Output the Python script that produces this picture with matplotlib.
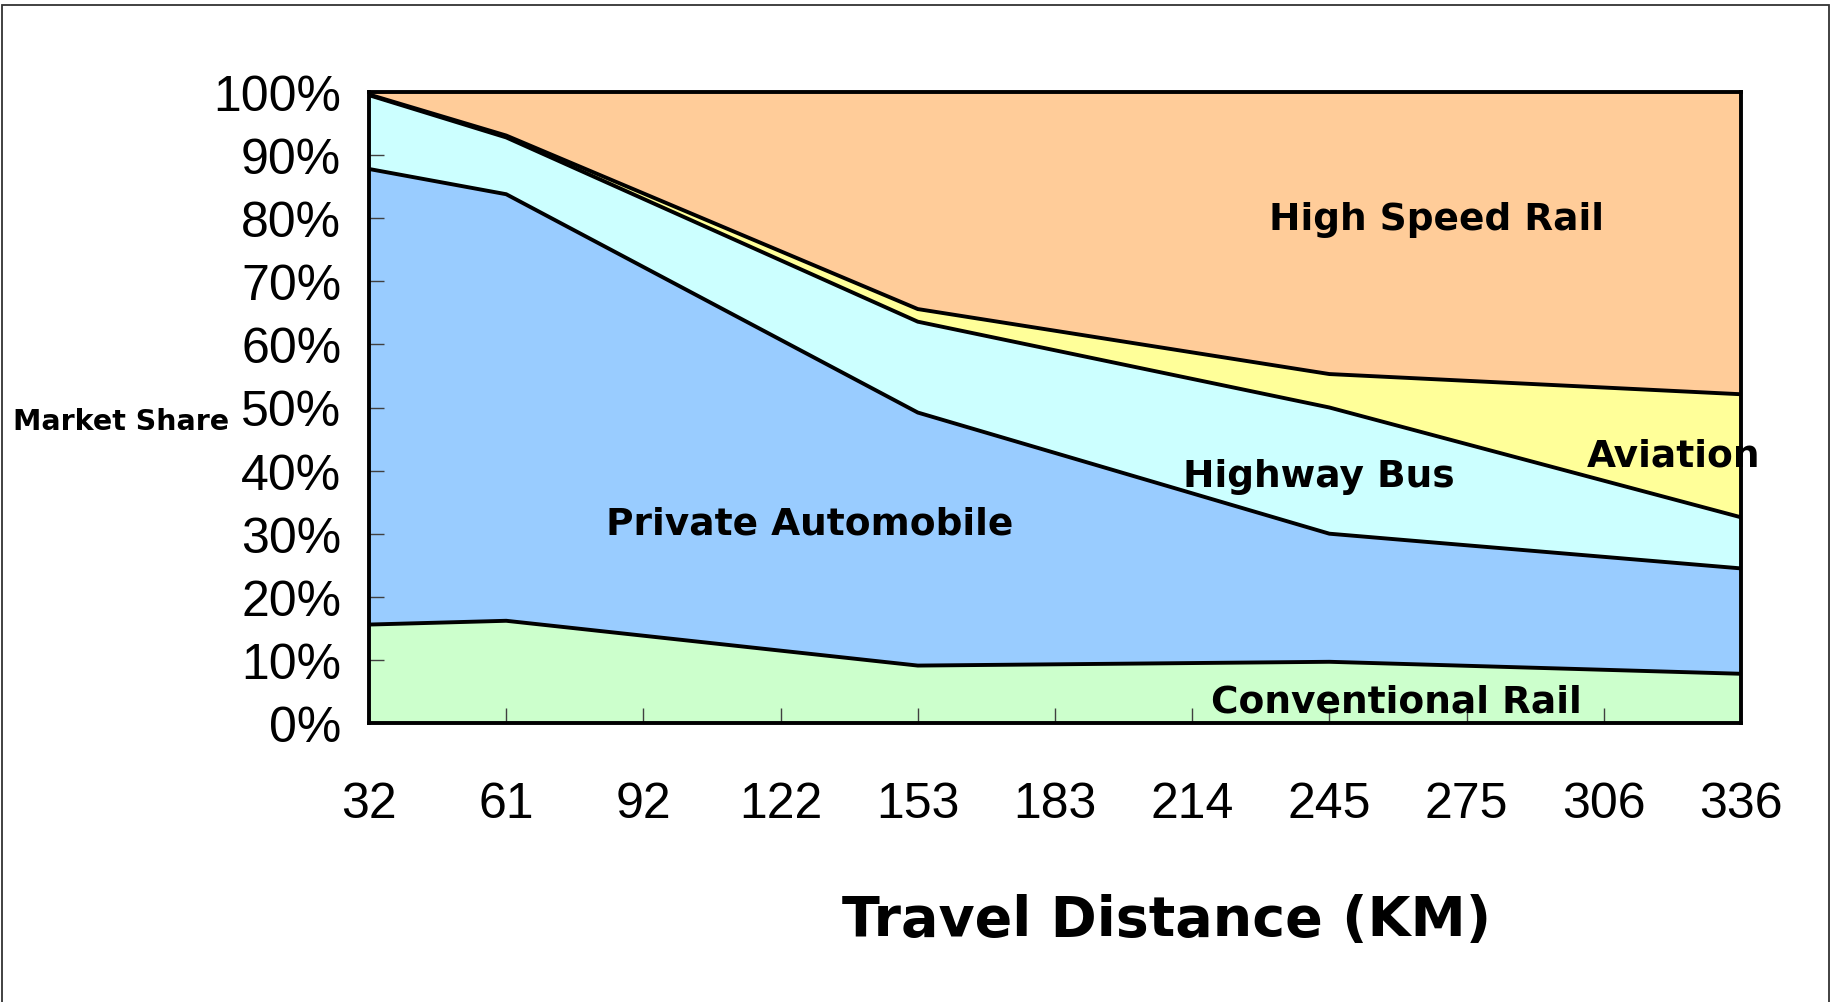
import matplotlib
matplotlib.use("Agg")
import matplotlib.pyplot as plt
from matplotlib.patches import Rectangle
import numpy as np

# Distance categories shown on the axis (km)
tick_km = [32, 61, 92, 122, 153, 183, 214, 245, 275, 306, 336]
# Distances where market shares were surveyed (km)
survey_km = [32, 61, 153, 245, 336]

# Market share by mode (%), bottom to top of the stack
conventional_rail = [15.6, 16.2, 9.1, 9.7, 7.8]
private_automobile = [72.2, 67.6, 40.1, 20.3, 16.7]
highway_bus = [11.7, 9.0, 14.4, 20.0, 8.1]
aviation = [0.1, 0.3, 2.0, 5.3, 19.5]
high_speed_rail = [0.4, 6.9, 34.4, 44.7, 47.9]

modes = ["Conventional Rail", "Private Automobile", "Highway Bus", "Aviation", "High Speed Rail"]
colors = ["#CCFFCC", "#99CCFF", "#CCFFFF", "#FFFF99", "#FFCC99"]

W, H, DPI = 1837, 1003, 100
fig = plt.figure(figsize=(W / DPI, H / DPI), dpi=DPI)
fig.patch.set_facecolor("white")

# outer frame (open at the bottom)
fig.add_artist(Rectangle((2 / W, -0.02), 1827 / W, 1.02 - 6 / H, transform=fig.transFigure,
                         fill=False, edgecolor="#333333", linewidth=1.3))

ax = fig.add_axes([369 / W, 1 - 724 / H, (1741 - 369) / W, (724 - 93) / H])

x = np.array([tick_km.index(d) for d in survey_km], dtype=float)
layers = np.array([conventional_rail, private_automobile, highway_bus, aviation, high_speed_rail])
tops = np.cumsum(layers, axis=0)
bottoms = np.vstack([np.zeros(len(x)), tops[:-1]])

for b, t, c in zip(bottoms, tops, colors):
    ax.fill_between(x, b, t, facecolor=c, edgecolor="none", linewidth=0, zorder=1)
for t in tops[:-1]:
    ax.plot(x, t, color="black", linewidth=2.8, solid_joinstyle="miter", zorder=3)

ax.set_xlim(0, len(tick_km) - 1)
ax.set_ylim(0, 100)
ax.set_xticks(range(len(tick_km)))
ax.set_xticklabels([str(k) for k in tick_km])
ax.set_yticks(range(0, 101, 10))
ax.set_yticklabels([f"{v}%" for v in range(0, 101, 10)])

for lab in ax.get_xticklabels() + ax.get_yticklabels():
    lab.set_fontfamily("Liberation Sans")
    lab.set_fontsize(36)
ax.tick_params(axis="x", direction="in", length=11, width=1, color="#404040", pad=42, top=False)
ax.tick_params(axis="y", direction="in", length=11, width=1, color="#404040", pad=20, right=False)

for s in ax.spines.values():
    s.set_linewidth(2.8)
    s.set_color("black")
    s.set_zorder(4)

bold = dict(family="DejaVu Sans", fontweight="bold", color="black", ha="center", va="center",
            zorder=6, clip_on=False)
ax.text(7.78, 79.8, "High Speed Rail", fontsize=27, **bold)
ax.text(9.51, 42.4, "Aviation", fontsize=27, **bold)
ax.text(6.92, 39.1, "Highway Bus", fontsize=27, **bold)
ax.text(3.21, 31.6, "Private Automobile", fontsize=27, **bold)
ax.text(7.49, 3.4, "Conventional Rail", fontsize=27, **bold)

fig.text(121 / W, 1 - 360 * 1.1716 / H, "Market Share", family="DejaVu Sans", fontweight="bold",
         fontsize=20.5, ha="center", va="center")
fig.text(1167 / W, 1 - 921 / H, "Travel Distance (KM)", family="DejaVu Sans", fontweight="bold",
         fontsize=40, ha="center", va="center")

fig.savefig("out.png", dpi=DPI, facecolor="white")
